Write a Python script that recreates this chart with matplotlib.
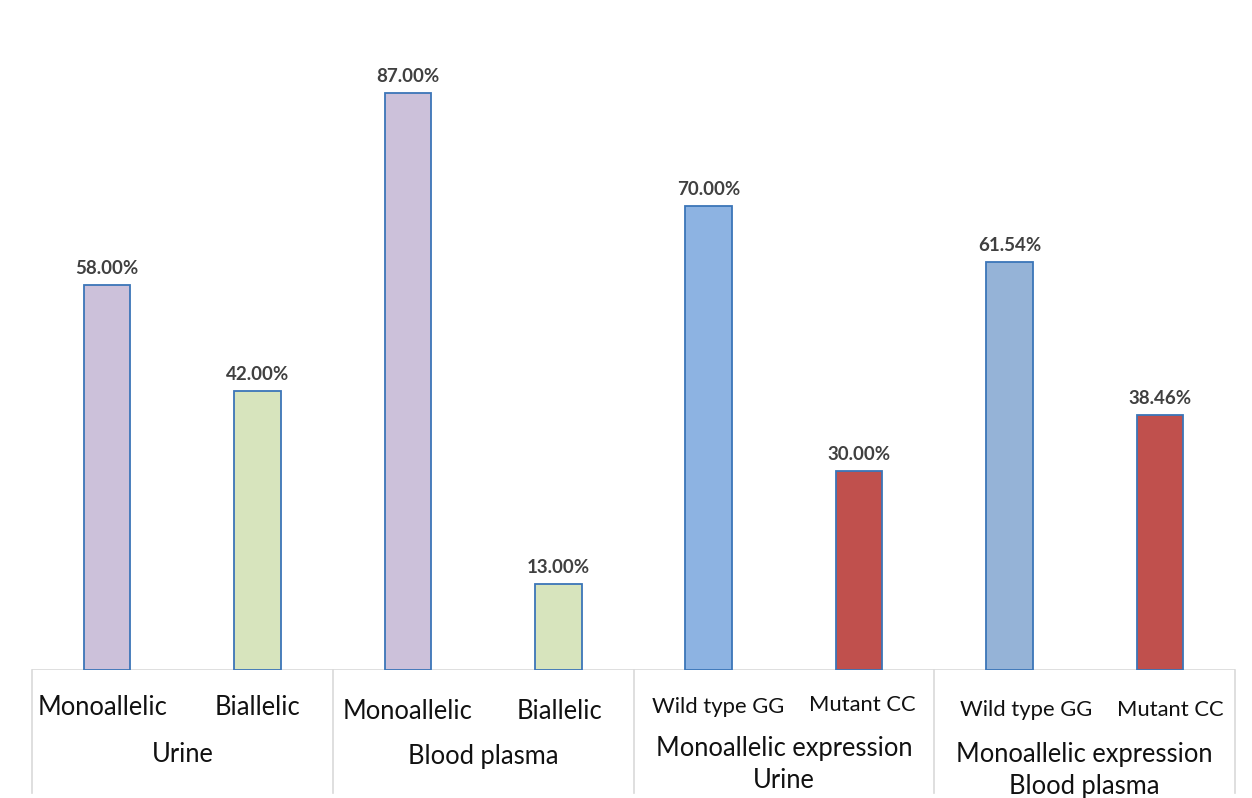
import numpy as np
import matplotlib.pyplot as plt

# Allelic expression, percentages per sample type
sub_labels = ["Monoallelic", "Biallelic", "Monoallelic", "Biallelic",
              "Wild type GG", "Mutant CC", "Wild type GG", "Mutant CC"]
group_labels = ["Urine", "Blood plasma",
                "Monoallelic expression\nUrine", "Monoallelic expression\nBlood plasma"]
values = [58.00, 42.00, 87.00, 13.00, 70.00, 30.00, 61.54, 38.46]
bar_colors = ["#CCC1DA", "#D7E4BD", "#CCC1DA", "#D7E4BD",
              "#8DB3E2", "#C0504D", "#95B3D7", "#C0504D"]

plt.rcParams['font.family'] = ['Lato', 'DejaVu Sans']

fig = plt.figure(figsize=(12.52, 7.98), dpi=100)
W, H = 1252, 798
ax = fig.add_axes([32 / W, (H - 670) / H, 1203 / W, 670 / H])

x = np.arange(len(values))
bars = ax.bar(x, values, width=0.31, color=bar_colors,
              edgecolor="#3B75B8", linewidth=1.3, zorder=2)

for b, v in zip(bars, values):
    ax.text(b.get_x() + b.get_width() / 2, v + 1.2, f"{v:.2f}%",
            ha="center", va="bottom", fontsize=13.5, fontweight="bold",
            color="#404040")

ax.set_xlim(-0.5, len(values) - 0.5)
ax.set_ylim(0, 101)
ax.axis("off")

# multi-level category axis below the bars
line_col = "#D9D9D9"
ax.axhline(0, color=line_col, linewidth=1.2, zorder=1)
for xb in [-0.5, 1.5, 3.5, 5.5, 7.5]:
    ax.plot([xb, xb], [0, -18.5], color=line_col, linewidth=1.2,
            clip_on=False)

sub_y = [-5.7, -5.7, -6.3, -6.3, -5.6, -5.3, -6.0, -6.0]
sub_dx = [-0.03, 0, 0, 0.01, 0.06, 0.02, 0.11, 0.07]
for xi, lab, yy, dx in zip(x, sub_labels, sub_y, sub_dx):
    fs = 18.4 if "allelic" in lab else 15.8
    ax.text(xi + dx, yy, lab, ha="center", va="center", fontsize=fs,
            color="#111111", clip_on=False)

grp_x = [0.5, 2.5, 4.5, 6.5]
grp_y = [(-12.8,), (-13.0,), (-11.8, -16.6), (-12.7, -17.6)]
for gx, lab, ys in zip(grp_x, group_labels, grp_y):
    for line, yy in zip(lab.split("\n"), ys):
        ax.text(gx, yy, line, ha="center", va="center", fontsize=18.4,
                color="#111111", clip_on=False)

fig.savefig("out.png", dpi=100)
